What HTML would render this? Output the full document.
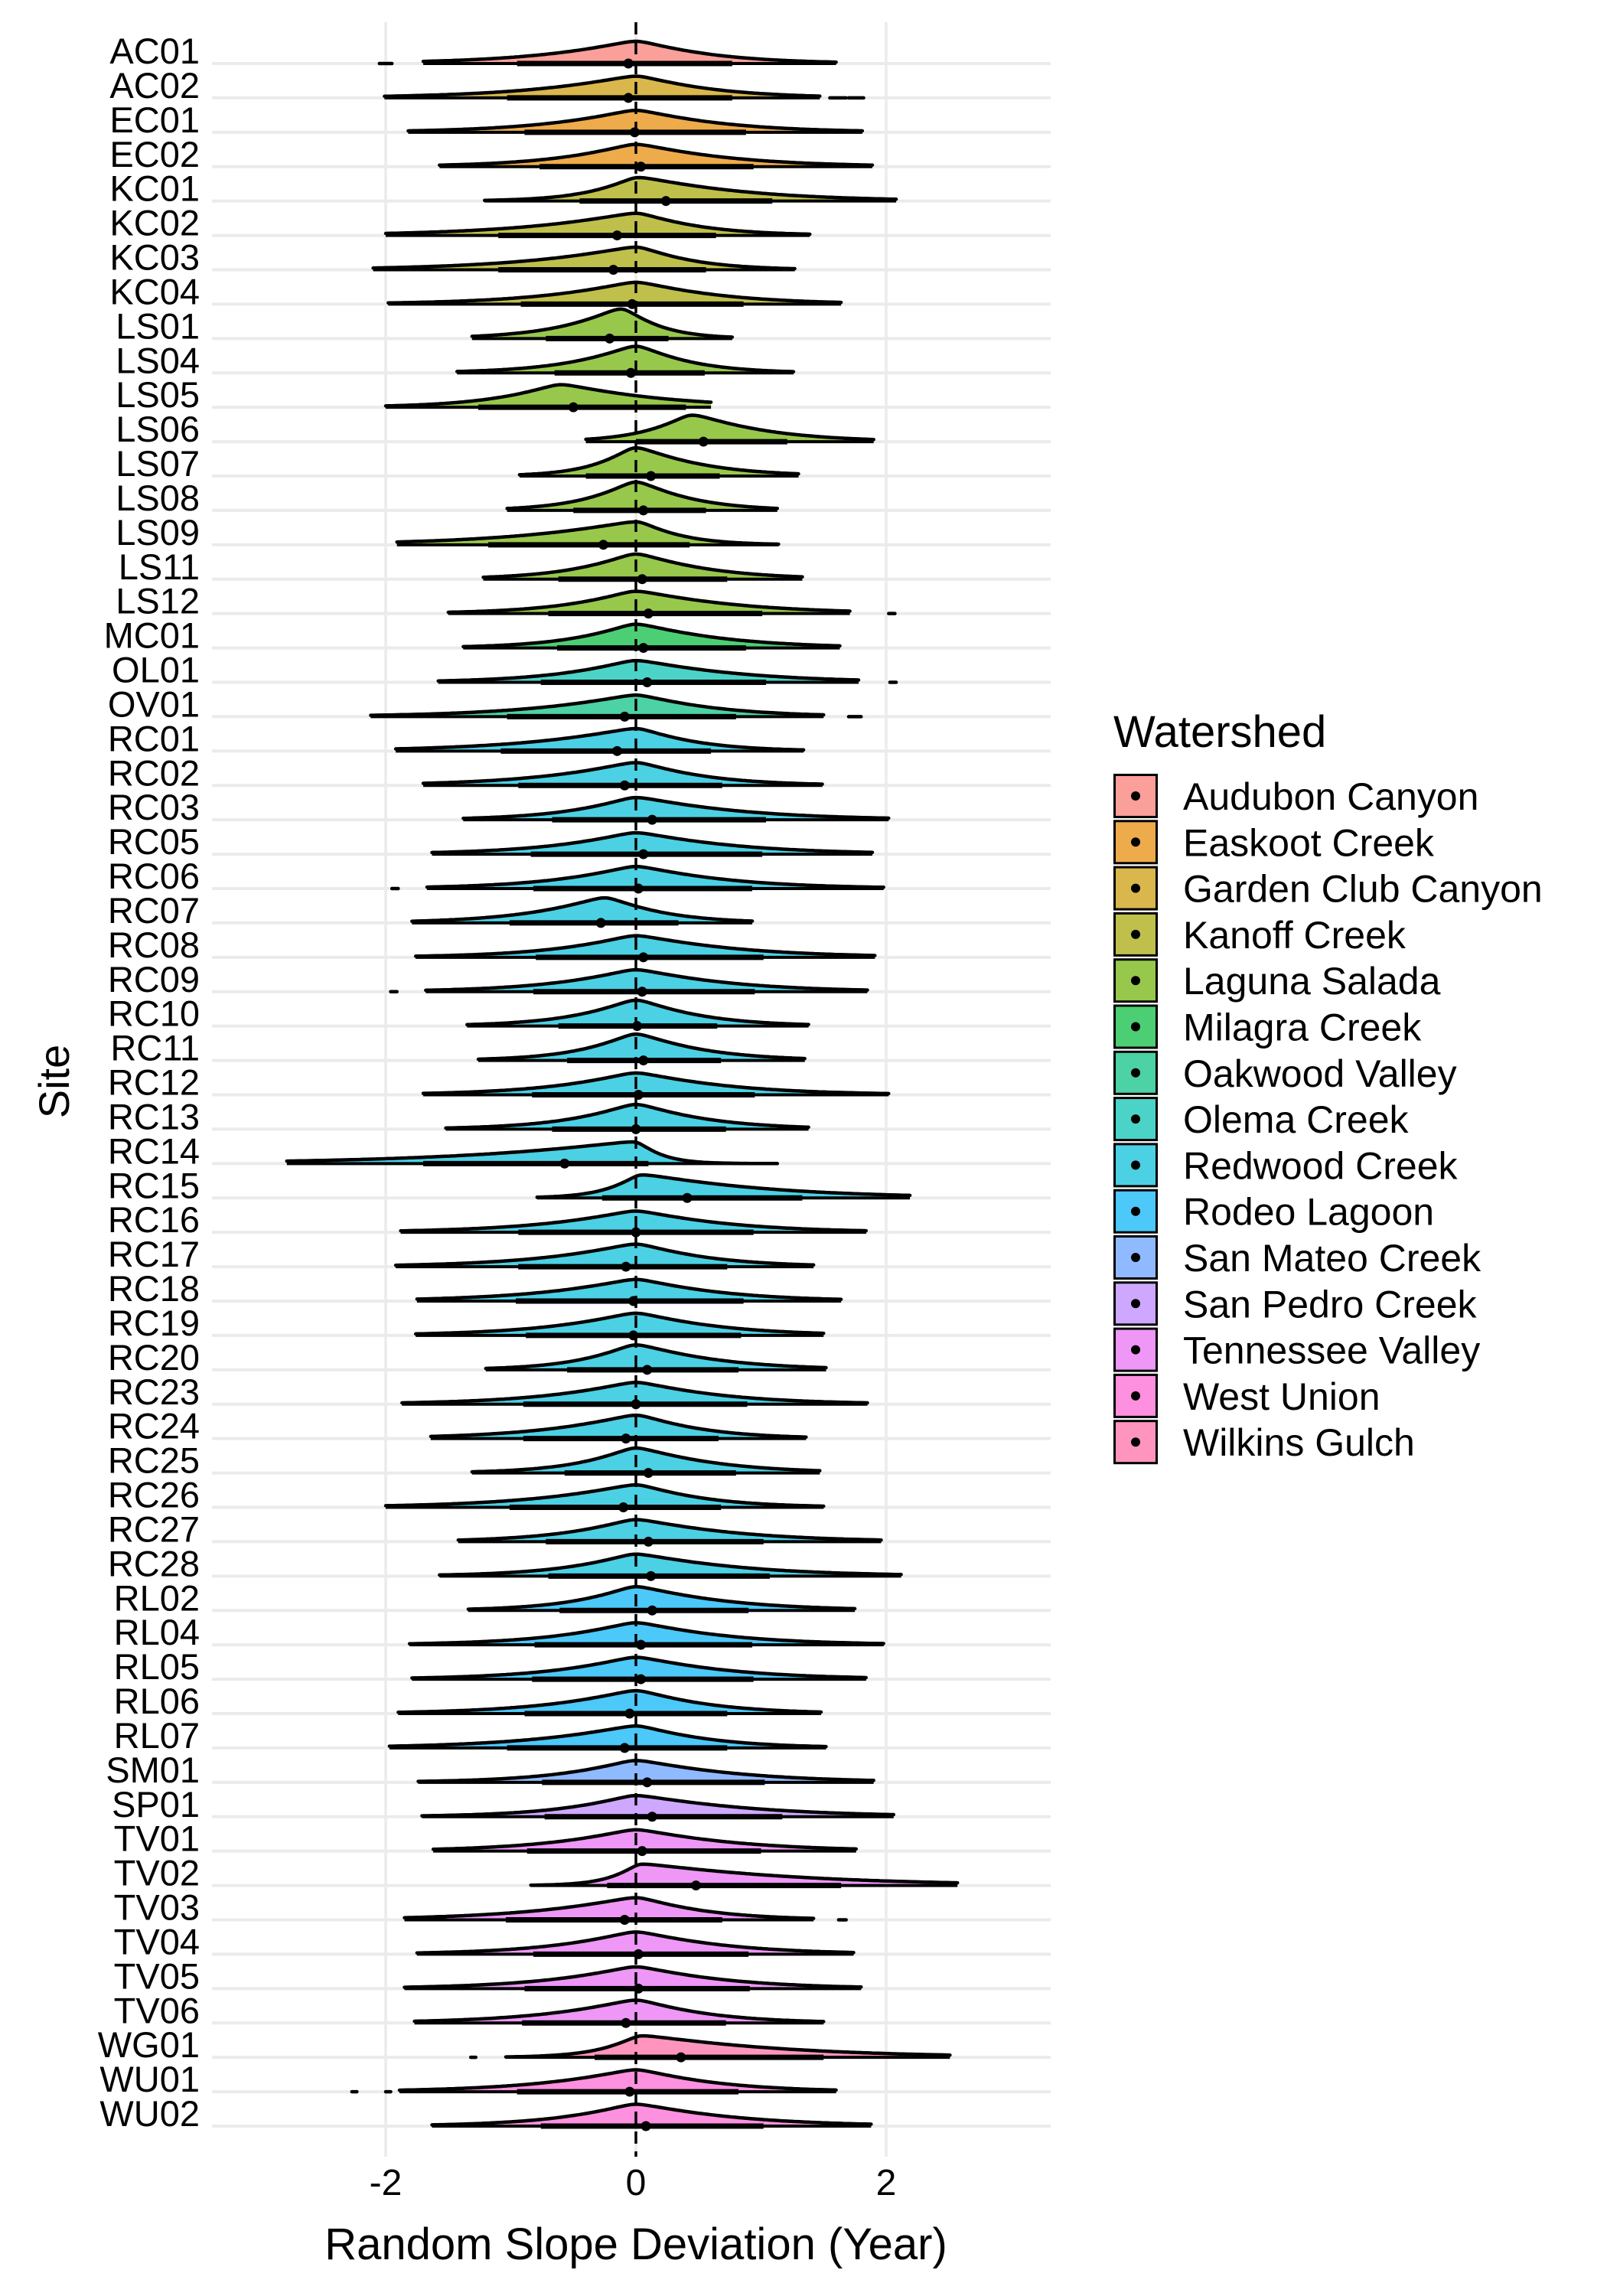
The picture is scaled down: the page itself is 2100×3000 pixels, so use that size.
<!DOCTYPE html>
<html><head><meta charset="utf-8"><title>Random slope deviation by site</title>
<style>html,body{margin:0;padding:0;background:#fff}svg{display:block}text{font-family:"Liberation Sans",Arial,sans-serif;fill:#000}</style>
</head><body>
<svg id="chart" width="2100" height="3000" viewBox="0 0 2100 3000" xmlns="http://www.w3.org/2000/svg">
<rect x="0" y="0" width="2100" height="3000" fill="#fff"/>
<g id="grid"></g>
<g id="ridges"></g>
<g id="ylabels"></g>
<g id="xlabels"></g>
<text x="831" y="2952" font-size="58" text-anchor="middle">Random Slope Deviation (Year)</text>
<text transform="translate(90,1413) rotate(-90)" font-size="56" text-anchor="middle">Site</text>
<g id="legend">
<text x="1455" y="976" font-size="58">Watershed</text>
</g>
</svg>
<script>
const watersheds = ["Audubon Canyon","Easkoot Creek","Garden Club Canyon","Kanoff Creek","Laguna Salada","Milagra Creek","Oakwood Valley","Olema Creek","Redwood Creek","Rodeo Lagoon","San Mateo Creek","San Pedro Creek","Tennessee Valley","West Union","Wilkins Gulch"];
const wsColors = ["#FA9F99","#EDAB4C","#D9B74C","#BFC04C","#97C84C","#4CCF74","#4CD2A4","#4CD3C7","#4CD0E4","#4CC8F9","#90BAFF","#CEA8FF","#EE97F7","#FD90DF","#FF95BF"];
const sites = ["AC01","AC02","EC01","EC02","KC01","KC02","KC03","KC04","LS01","LS04","LS05","LS06","LS07","LS08","LS09","LS11","LS12","MC01","OL01","OV01","RC01","RC02","RC03","RC05","RC06","RC07","RC08","RC09","RC10","RC11","RC12","RC13","RC14","RC15","RC16","RC17","RC18","RC19","RC20","RC23","RC24","RC25","RC26","RC27","RC28","RL02","RL04","RL05","RL06","RL07","SM01","SP01","TV01","TV02","TV03","TV04","TV05","TV06","WG01","WU01","WU02"];
const siteWs = [0,2,1,1,3,3,3,3,4,4,4,4,4,4,4,4,4,5,7,6,8,8,8,8,8,8,8,8,8,8,8,8,8,8,8,8,8,8,8,8,8,8,8,8,8,9,9,9,9,9,10,11,12,12,12,12,12,12,14,13,13];
const medVals = [-0.06,-0.06,-0.01,0.04,0.24,-0.15,-0.18,-0.03,-0.21,-0.04,-0.5,0.54,0.12,0.06,-0.26,0.05,0.1,0.06,0.09,-0.09,-0.15,-0.09,0.13,0.06,0.02,-0.28,0.06,0.05,0.01,0.06,0.02,0.0,-0.57,0.41,0.0,-0.08,-0.02,-0.02,0.09,0.0,-0.08,0.1,-0.1,0.1,0.12,0.13,0.04,0.04,-0.05,-0.09,0.09,0.13,0.05,0.48,-0.09,0.02,0.02,-0.08,0.36,-0.05,0.08];
const loVals = [-0.95,-1.03,-0.89,-0.77,-0.45,-1.1,-1.1,-0.92,-0.72,-0.65,-1.26,0.0,-0.4,-0.5,-1.18,-0.62,-0.7,-0.63,-0.76,-1.03,-1.08,-0.94,-0.67,-0.84,-0.82,-1.01,-0.8,-0.82,-0.62,-0.55,-0.83,-0.67,-1.7,-0.27,-0.94,-0.94,-0.96,-0.88,-0.55,-0.9,-0.9,-0.57,-1.01,-0.72,-0.7,-0.61,-0.81,-0.83,-0.89,-1.03,-0.75,-0.73,-0.87,-0.23,-1.04,-0.82,-0.89,-0.91,-0.33,-0.95,-0.76];
const hiVals = [0.77,0.77,0.88,0.94,1.09,0.64,0.56,0.86,0.26,0.55,0.4,1.21,0.67,0.56,0.43,0.73,1.01,0.88,1.04,0.8,0.6,0.69,1.04,1.01,0.93,0.34,1.02,0.95,0.65,0.68,0.95,0.72,0.1,1.33,0.94,0.73,0.86,0.84,0.82,0.89,0.66,0.8,0.68,1.02,1.07,0.9,0.93,0.94,0.73,0.73,1.03,1.17,1.0,1.64,0.69,0.9,0.91,0.72,1.5,0.82,1.02];
const minVals = [-1.7,-2.01,-1.82,-1.57,-1.21,-2.0,-2.1,-1.98,-1.31,-1.43,-2.0,-0.4,-0.93,-1.03,-1.91,-1.22,-1.5,-1.38,-1.58,-2.12,-1.92,-1.7,-1.38,-1.63,-1.67,-1.79,-1.76,-1.68,-1.35,-1.26,-1.7,-1.52,-2.79,-0.79,-1.88,-1.92,-1.75,-1.76,-1.2,-1.87,-1.64,-1.31,-2.0,-1.42,-1.57,-1.34,-1.81,-1.79,-1.9,-1.97,-1.74,-1.71,-1.62,-0.84,-1.85,-1.75,-1.85,-1.77,-1.04,-1.89,-1.63];
const maxVals = [1.6,1.47,1.81,1.89,2.08,1.39,1.27,1.64,0.77,1.26,0.6,1.9,1.3,1.13,1.14,1.33,1.71,1.63,1.78,1.5,1.34,1.49,2.02,1.89,1.98,0.93,1.91,1.85,1.38,1.35,2.02,1.38,1.13,2.19,1.84,1.42,1.64,1.5,1.52,1.85,1.36,1.47,1.5,1.96,2.12,1.75,1.98,1.84,1.48,1.52,1.9,2.06,1.76,2.57,1.42,1.74,1.8,1.5,2.51,1.6,1.88];
const modeVals = [0,0,0,0,0.02,0,0,0,-0.12,0,-0.6,0.45,0,0,0,0,0,0,0,0,0,0,0,0,0,-0.25,0,0,0,0,0,0,-0.02,0.05,0,0,0,0,0,0,0,0,0,0,0,0,0,0,0,0,0,0,0,0.05,0,0,0,0,0.05,0,0];
const outlierSite = [0,1,1,16,18,19,24,27,54,58,59,59];
const outlierLo = [-2.05,1.55,1.7,2.02,2.03,1.7,-1.95,-1.96,1.62,-1.32,-2.27,-2.0];
const outlierHi = [-1.95,1.68,1.82,2.07,2.08,1.8,-1.9,-1.91,1.68,-1.28,-2.23,-1.96];
const xTicks = [-2,0,2];
const xTickLabels = ["-2","0","2"];

const NS = "http://www.w3.org/2000/svg";
const PX0 = 277, PX1 = 1373, PY0 = 29, PY1 = 2818;
const X0 = 831, XU = 163.5;
const ROW0 = 83, ROWSTEP = (2778 - 83) / 60;
function xs(v){ return X0 + v * XU; }
function ys(i){ return ROW0 + i * ROWSTEP; }
function mk(tag, attrs, parent){ const e = document.createElementNS(NS, tag); for (const k in attrs) e.setAttribute(k, attrs[k]); parent.appendChild(e); return e; }

const grid = document.getElementById('grid');
sites.forEach((s, i) => {
  const l = mk('line', {x1: PX0, x2: PX1, y1: ys(i), y2: ys(i), stroke: '#EBEBEB', 'stroke-width': 4}, grid);
  
  
});
xTicks.forEach(t => {
  const l = mk('line', {x1: xs(t), x2: xs(t), y1: PY0, y2: PY1, stroke: '#EBEBEB', 'stroke-width': 3.5}, grid);
  
  
});

const ridges = document.getElementById('ridges');
function dens(x, i){
  const m = modeVals[i];
  const sL = Math.max(0.2, (m - loVals[i]) / 1.25), sR = Math.max(0.2, (hiVals[i] - m) / 1.25);
  const d = x - m; const s = d < 0 ? sL : sR;
  const e = 0.0025;
  const dd = Math.sqrt(d*d + e) - Math.sqrt(e);
  return Math.exp(-Math.pow(dd / s, 1.1));
}
for (let i = sites.length - 1; i >= 0; i--) {
  const g = mk('g', {}, ridges);
  
  
  const y = ys(i);
  const h = Math.min(40, 29 * Math.sqrt(1.72 / (hiVals[i] - loVals[i])));
  const n = 160; let pts = [];
  for (let k = 0; k <= n; k++) {
    const v = minVals[i] + (maxVals[i] - minVals[i]) * k / n;
    pts.push([xs(v), y - h * dens(v, i)]);
  }
  const line = pts.map((p, k) => (k ? 'L' : 'M') + p[0].toFixed(1) + ',' + p[1].toFixed(1)).join(' ');
  const fill = mk('path', {d: line + ` L${xs(maxVals[i]).toFixed(1)},${y} L${xs(minVals[i]).toFixed(1)},${y} Z`, fill: wsColors[siteWs[i]], stroke: 'none'}, g);
  
  
  const base = mk('line', {x1: xs(minVals[i]), x2: xs(maxVals[i]), y1: y, y2: y, stroke: '#000', 'stroke-width': 4}, g);
  
  
  const out = mk('path', {d: line, fill: 'none', stroke: '#000', 'stroke-width': 4.5, 'stroke-linejoin': 'round', 'stroke-linecap': 'round'}, g);
  
  
  const bar = mk('line', {x1: xs(loVals[i]), x2: xs(hiVals[i]), y1: y, y2: y, stroke: '#000', 'stroke-width': 7}, g);
  
  
  const dot = mk('circle', {cx: xs(medVals[i]), cy: y, r: 6.5, fill: '#000'}, g);
  
  
}
outlierSite.forEach((si, k) => {
  const o = mk('line', {x1: xs(outlierLo[k]), x2: xs(outlierHi[k]), y1: ys(si), y2: ys(si), stroke: '#000', 'stroke-width': 4.5, 'stroke-linecap': 'round'}, ridges);
  
  
});
const zl = mk('line', {x1: xs(0), x2: xs(0), y1: PY0, y2: PY1, stroke: '#000', 'stroke-width': 3.5, 'stroke-dasharray': '16,10'}, ridges);



const yl = document.getElementById('ylabels');
sites.forEach((s, i) => {
  const t = mk('text', {x: 261, y: ys(i), 'font-size': 47, 'text-anchor': 'end'}, yl);
  t.textContent = s;
  
  
});
const xl = document.getElementById('xlabels');
xTicks.forEach((t, k) => {
  const e = mk('text', {x: xs(t), y: 2868, 'font-size': 48, 'text-anchor': 'middle'}, xl);
  e.textContent = xTickLabels[k];
  
  
});

const lg = document.getElementById('legend');
watersheds.forEach((w, k) => {
  const cy = 1040 + k * 60.3;
  const g = mk('g', {}, lg);
  
  
  const r = mk('rect', {x: 1456.5, y: cy - 27.5, width: 55, height: 55, fill: wsColors[k], stroke: '#000', 'stroke-width': 3}, g);
  
  
  const c = mk('circle', {cx: 1484, cy: cy, r: 6, fill: '#000'}, g);
  
  
  const t = mk('text', {x: 1546, y: cy + 18, 'font-size': 50}, g);
  t.textContent = w;
  
  
});
</script>
</body></html>
